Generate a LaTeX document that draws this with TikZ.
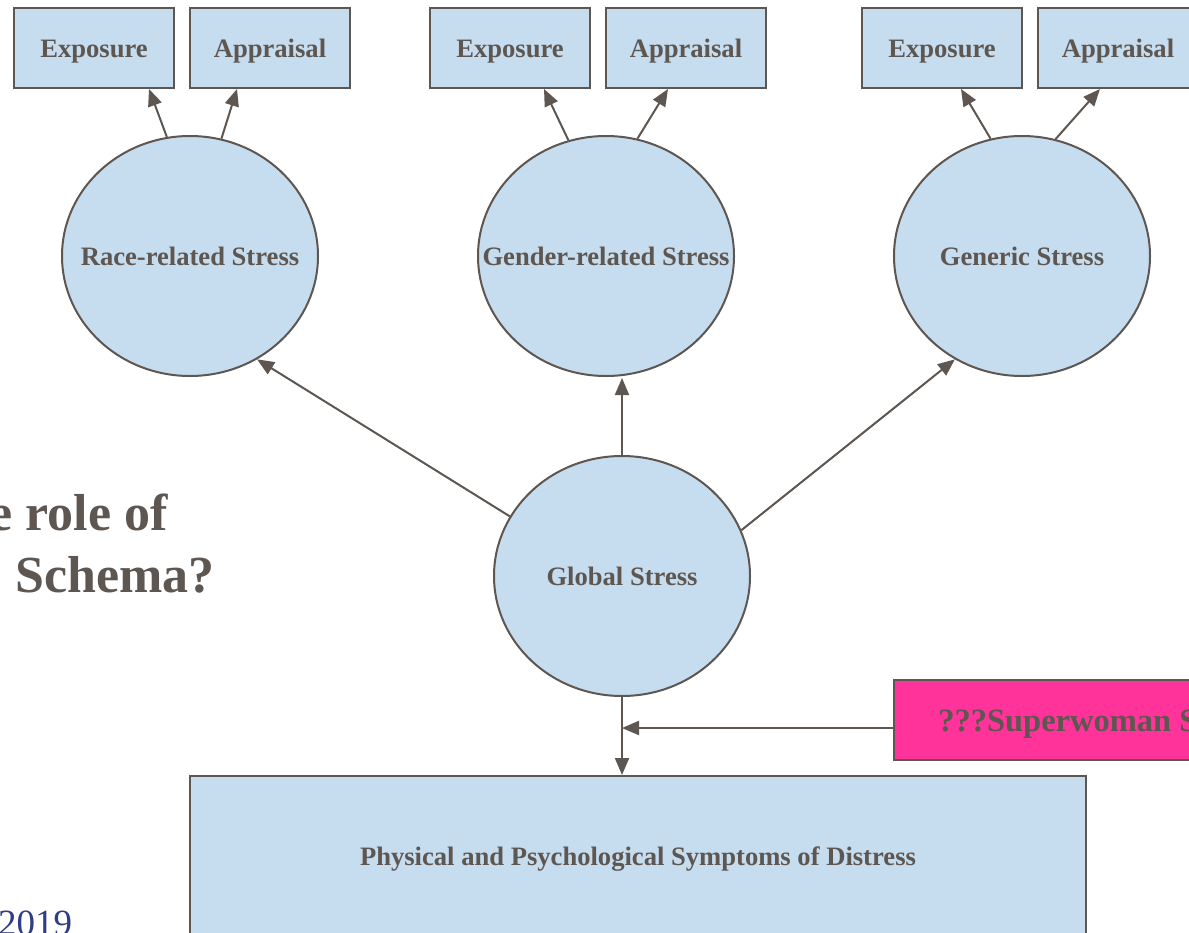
\documentclass[tikz,border=0pt]{standalone}
\usepackage{fontspec}
\setmainfont{Liberation Serif}
\usetikzlibrary{shapes.geometric,arrows.meta}
\definecolor{boxfill}{RGB}{198,220,239}
\definecolor{ink}{RGB}{94,86,80}
\definecolor{hotpink}{RGB}{255,51,153}
\definecolor{yearblue}{RGB}{47,61,132}
% label of no size, its baseline set #1 below the shape's centre
\newcommand{\cellText}[2]{\raisebox{-#1}[0pt][0pt]{\makebox[0pt]{#2}}}
\tikzset{
  lbl/.style={font=\fontsize{26.6}{30}\selectfont\bfseries, text=ink},
  smallbox/.style={lbl, draw=ink, line width=2pt, fill=boxfill, minimum width=160pt, minimum height=80pt, inner sep=0pt},
  latent/.style={lbl, ellipse, draw=ink, line width=2pt, fill=boxfill, minimum width=256pt, minimum height=240pt, inner sep=0pt},
  link/.style={draw=ink, line width=2pt, -{Triangle[length=17pt,width=14pt]}},
}
\begin{document}
\begin{tikzpicture}[x=1pt,y=-1pt]
\useasboundingbox (0,0) rectangle (1189,932);
\clip (0,0) rectangle (1189,932);
\fill[white] (0,0) rectangle (1189,932);

% indicator boxes
\node[smallbox] (exp1) at (94,48) {\cellText{9.3pt}{Exposure}};
\node[smallbox] (app1) at (270,48) {\cellText{9.3pt}{Appraisal}};
\node[smallbox] (exp2) at (510,48) {\cellText{9.3pt}{Exposure}};
\node[smallbox] (app2) at (686,48) {\cellText{9.3pt}{Appraisal}};
\node[smallbox] (exp3) at (942,48) {\cellText{9.3pt}{Exposure}};
\node[smallbox] (app3) at (1118,48) {\cellText{9.3pt}{Appraisal}};

% latent factors
\node[latent] (race) at (190,256) {\cellText{9.7pt}{Race-related Stress}};
\node[latent] (gender) at (606,256) {\cellText{9.7pt}{Gender-related Stress}};
\node[latent] (generic) at (1022,256) {\cellText{9.7pt}{Generic Stress}};
\node[latent] (global) at (622,576) {\cellText{9.7pt}{Global Stress}};

% outcome and moderator
\node[lbl, draw=ink, line width=2pt, fill=boxfill, minimum width=896pt, minimum height=164pt, inner sep=0pt] (sym) at (638,858) {\cellText{7.7pt}{Physical and Psychological Symptoms of Distress}};
\node[lbl, font=\fontsize{32.5}{36}\selectfont\bfseries, draw=ink, line width=2pt, fill=hotpink, minimum width=452pt, minimum height=80pt, inner sep=0pt] (sws) at (1120,720) {\cellText{11.7pt}{\hspace*{-14pt}???Superwoman Schema}};

% factor loadings
\draw[link] (race.101) -- ([xshift=-26pt]exp1.south east);
\draw[link] (race.75) -- ([xshift=48pt]app1.south west);
\draw[link] (gender.108) -- ([xshift=-47pt]exp2.south east);
\draw[link] (gender.75) -- ([xshift=63pt]app2.south west);
\draw[link] (generic.105) -- ([xshift=-62pt]exp3.south east);
\draw[link] (generic.74.7) -- ([xshift=63pt]app3.south west);

% higher-order paths
\draw[link] (global.152.6) -- (race.-57.8);
\draw[link] (global.north) -- ([yshift=-1pt]global.north |- gender.south);
\draw[link] (global.21.8) -- (generic.237.8);
\draw[link] (global.south) -- (global.south |- sym.north);
\coordinate (mod) at ([yshift=-8pt]sws.west);
\draw[link] (mod) -- (mod -| global.south);

% partly visible titles
\node[font=\fontsize{52}{60}\selectfont\bfseries, text=ink, anchor=base east, inner sep=0pt] (q1) at (168,530) {e role of};
\node[font=\fontsize{52}{60}\selectfont\bfseries, text=ink, anchor=base east, inner sep=0pt] (q2) at (215,592) {Schema?};
\node[font=\fontsize{37}{40}\selectfont, text=yearblue, anchor=base west, inner sep=0pt] (yr) at (-2,935) {2019};
\end{tikzpicture}
\end{document}
